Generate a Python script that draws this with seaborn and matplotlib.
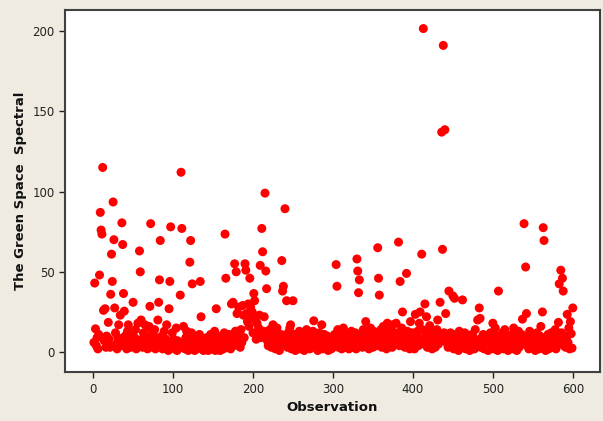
import matplotlib
matplotlib.use("Agg")
import matplotlib.pyplot as plt
import pandas as pd
import seaborn as sns

# green space spectral value per observation
spectral = [
    6, 43, 14.5, 4, 9, 2, 11, 48, 87, 76, 73.5, 115, 26, 7, 27, 3, 10, 5, 18.5, 8,
    3, 36, 61, 44, 93.5, 70, 27.5, 12, 5, 2, 9, 17, 6, 23, 4, 80.5, 67, 36.5, 25.5, 10,
    7, 2, 13, 17, 5, 8, 3, 11, 6, 31, 4, 9, 14, 2, 7, 18, 5, 63, 50, 20,
    8, 3, 12, 6, 17, 4, 9, 2, 15, 16, 28.5, 80, 5, 11, 3, 7, 14, 2, 9, 6,
    20, 31, 45, 69.5, 4, 10, 2, 7, 13, 3, 8, 17, 5, 1, 27, 44, 78, 6, 12, 3,
    8, 2, 5, 15, 1, 7, 5, 4, 35.5, 112, 77, 3, 16, 6, 2, 9, 13, 4, 1, 7,
    56, 69.5, 12, 42.5, 3, 6, 1, 9, 4, 2, 7, 5, 11, 44, 22, 3, 8, 1, 6, 4,
    2, 9, 5, 1, 7, 3, 11, 6, 2, 8, 4, 13, 1, 27, 5, 10, 3, 7, 1, 6,
    4, 9, 2, 12, 73.5, 46, 5, 8, 3, 11, 6, 2, 30, 9, 31, 4, 55, 13, 50, 24,
    7, 28, 10, 3, 14, 6, 29, 23, 9, 55, 51, 24, 19, 30, 16, 46, 28, 22, 25, 12,
    36.5, 32, 20, 8, 18, 11, 15, 23, 54, 9, 77, 62.5, 13, 22, 99, 50.5, 39.5, 7, 4, 10,
    14, 6, 3, 9, 17, 5, 12, 2, 8, 15, 4, 10, 1, 6, 11, 57, 38, 41, 5, 89.3,
    9, 32, 3, 12, 6, 15, 17, 2, 8, 32, 4, 11, 1, 7, 3, 9, 5, 13, 2, 6,
    10, 4, 8, 1, 12, 5, 14, 3, 7, 9, 2, 11, 6, 4, 13, 19.5, 8, 3, 10, 5,
    1, 7, 12, 4, 9, 17, 2, 6, 11, 3, 8, 5, 10, 1, 7, 4, 9, 2, 6, 3,
    8, 11, 5, 54.5, 41, 14, 3, 9, 6, 12, 2, 7, 15, 4, 10, 3, 8, 5, 11, 2,
    9, 6, 13, 3, 7, 10, 4, 12, 2, 58, 50.5, 37, 45, 8, 5, 11, 3, 14, 6, 9,
    19, 4, 12, 7, 2, 10, 15, 5, 8, 3, 13, 6, 11, 4, 9, 65, 46, 35.5, 7, 14,
    3, 10, 16, 5, 8, 12, 2, 18, 6, 11, 4, 9, 14, 3, 17, 7, 10, 5, 18, 8,
    12, 68.5, 4, 44, 9, 15, 25, 6, 11, 3, 8, 49, 13, 5, 10, 2, 19, 7, 12, 4,
    9, 2, 23.5, 6, 11, 13, 4, 18, 25, 8, 61, 14, 201.5, 5, 30, 10, 22, 3, 12, 7,
    16.5, 4, 9, 2, 13, 6, 11, 3, 8, 14, 20, 5, 10, 31, 7, 137, 64, 191, 12, 138.5,
    24, 6, 10, 3, 38, 8, 12, 5, 9, 35, 2, 33.5, 7, 11, 4, 8, 1, 13, 6, 10,
    3, 32.5, 9, 5, 12, 2, 7, 4, 10, 6, 1, 8, 3, 11, 5, 9, 2, 14, 6, 4,
    20, 7, 27.5, 21, 3, 9, 5, 11, 2, 7, 4, 10, 6, 1, 8, 3, 12, 5, 9, 18,
    2, 6, 15, 4, 10, 1, 38, 7, 3, 9, 5, 12, 2, 8, 14, 4, 6, 10, 1, 7,
    3, 9, 5, 11, 2, 15, 6, 4, 10, 1, 7, 13, 3, 8, 5, 11, 20.5, 6, 80, 9,
    53, 24, 4, 10, 2, 13, 6, 8, 3, 11, 5, 9, 1, 7, 12, 4, 8, 2, 10, 16,
    6, 25, 77.5, 69.5, 3, 1, 9, 5, 11, 2, 7, 4, 12, 8, 3, 10, 6, 14, 2, 9,
    5, 18.5, 42.5, 7, 51, 12, 46, 38, 4, 10, 3, 8, 23.5, 6, 15, 2, 19, 11.5, 2.5, 27.5,
]
observation = list(range(1, len(spectral) + 1))

x_ticks = [0, 100, 200, 300, 400, 500, 600]
y_ticks = [0, 50, 100, 150, 200]

df = pd.DataFrame({"Observation": observation, "Spectral": spectral})

sns.set_theme(style="ticks")
plt.rcParams["font.family"] = ["DejaVu Sans"]

fig = plt.figure(figsize=(6.03, 4.21), dpi=100, facecolor="#efebe1")
ax = fig.add_axes([0.108, 0.116, 0.887, 0.86])
ax.set_facecolor("white")

sns.scatterplot(data=df, x="Observation", y="Spectral", ax=ax,
                color="#ff0000", edgecolor="none", s=42, legend=False)

ax.set_xlim(-35, 634)
ax.set_ylim(-12.5, 213)
ax.set_xticks(x_ticks)
ax.set_yticks(y_ticks)
ax.tick_params(labelsize=8.5, colors="#222222", length=4, width=1)
for spine in ax.spines.values():
    spine.set_visible(True)
    spine.set_color("#404040")
    spine.set_linewidth(1.5)

ax.set_xlabel("Observation", fontsize=9.5, fontweight="bold", color="#111111")
ax.set_ylabel("The Green Space  Spectral", fontsize=9.5, fontweight="bold", color="#111111")

fig.savefig("out.png", dpi=100, facecolor=fig.get_facecolor())
